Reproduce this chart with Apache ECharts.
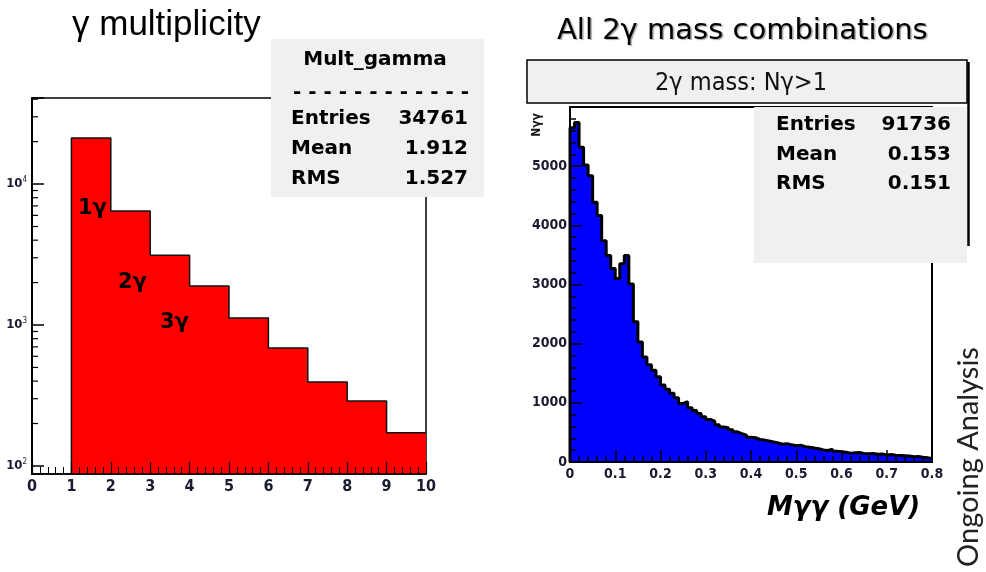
<!DOCTYPE html>
<html><head><meta charset="utf-8">
<script src="https://cdn.jsdelivr.net/npm/echarts@6/dist/echarts.min.js"></script>
<style>html,body{margin:0;padding:0;background:#fff}#c{width:986px;height:572px}</style>
</head><body><div id="c"></div>
<script>
// ---------- data ----------
const multBinLow = [1, 2, 3, 4, 5, 6, 7, 8, 9];
const multCounts = [21200, 6440, 3130, 1890, 1120, 687, 395, 289, 172];
const multLogMinorTicks = [200, 300, 400, 500, 600, 700, 800, 900,
  2000, 3000, 4000, 5000, 6000, 7000, 8000, 9000, 20000, 30000, 40000];
const multStats = [['Entries', '34761'], ['Mean', '1.912'], ['RMS', '1.527']];
const multBinLabels = ['1γ', '2γ', '3γ'];

const massBinWidth = 0.01;
const massCounts = [
  5650, 5740, 5320, 5020, 4840, 4390, 4165, 3740, 3490, 3270,
  3100, 3350, 3490, 3010, 2370, 2030, 1775, 1645, 1550, 1440,
  1300, 1230, 1160, 1085, 990, 1020, 915, 870, 820, 765,
  720, 690, 630, 590, 580, 545, 510, 480, 455, 420,
  410, 380, 370, 355, 340, 320, 300, 310, 290, 275,
  285, 260, 250, 235, 225, 205, 195, 215, 180, 175,
  165, 150, 155, 160, 145, 140, 145, 130, 135, 120,
  125, 115, 110, 105, 100, 90, 95, 80, 70, 60];
const massStats = [['Entries', '91736'], ['Mean', '0.153'], ['RMS', '0.151']];

// ---------- styling ----------
const LEFT_YMIN = 87.7, LEFT_YMAX = 40800;
const axisFont = '"Liberation Sans Narrow", "DejaVu Sans Condensed", Arial, sans-serif';
const comic = '"Comic Sans MS", "DejaVu Sans", sans-serif';
const labelColor = '#1a1a30';

const chart = echarts.init(document.getElementById('c'), null, {renderer: 'canvas'});

const multOutline = [[multBinLow[0], LEFT_YMIN]].concat(
  multBinLow.map((x, i) => [x, multCounts[i]]),
  [[multBinLow[multBinLow.length - 1] + 1, multCounts[multCounts.length - 1]]]);

const massOutline = [[0, 0]].concat(
  massCounts.map((v, i) => [i * massBinWidth, v]),
  [[massCounts.length * massBinWidth, massCounts[massCounts.length - 1]]]);

function statTexts(stats, xl, xr, y0, dy) {
  const out = [];
  stats.forEach((s, i) => {
    out.push({type: 'text', z: 101, x: xl, y: y0 + i * dy,
      style: {text: s[0], font: 'bold 20px ' + comic, fill: '#000', textAlign: 'left', textVerticalAlign: 'middle'}});
    out.push({type: 'text', z: 101, x: xr, y: y0 + i * dy,
      style: {text: s[1], font: 'bold 20px ' + comic, fill: '#000', textAlign: 'right', textVerticalAlign: 'middle'}});
  });
  return out;
}

const option = {
  animation: false,
  backgroundColor: '#fff',
  grid: [
    {left: 32, top: 98, width: 394, height: 376, show: true, borderColor: '#000', borderWidth: 1.5, backgroundColor: 'transparent', containLabel: false},
    {left: 570, top: 107, width: 362, height: 355, show: true, borderColor: '#000', borderWidth: 2, backgroundColor: 'transparent', containLabel: false}
  ],
  xAxis: [
    {gridIndex: 0, type: 'value', min: 0, max: 10, interval: 1, z: 10,
      axisLine: {show: true, onZero: false, lineStyle: {color: '#000', width: 1.5}},
      axisTick: {show: true, inside: true, length: 12, lineStyle: {color: '#000', width: 1.2}},
      minorTick: {show: true, splitNumber: 5, length: 7, lineStyle: {color: '#000', width: 1}},
      axisLabel: {margin: 5, color: labelColor, fontFamily: axisFont, fontSize: 16, fontWeight: 'bold',
        formatter: v => String(v)},
      splitLine: {show: false}, minorSplitLine: {show: false}},
    {gridIndex: 1, type: 'value', min: 0, max: 0.8, interval: 0.1, z: 10,
      axisLine: {show: true, onZero: false, lineStyle: {color: '#000', width: 2}},
      axisTick: {show: true, inside: true, length: 12, lineStyle: {color: '#000', width: 1.5}},
      minorTick: {show: true, splitNumber: 5, length: 6, lineStyle: {color: '#000', width: 1.5}},
      axisLabel: {margin: 5, color: labelColor, fontFamily: axisFont, fontSize: 14, fontWeight: 'bold',
        formatter: v => (v === 0 ? '0' : v.toFixed(1))},
      splitLine: {show: false}, minorSplitLine: {show: false}}
  ],
  yAxis: [
    {gridIndex: 0, type: 'log', logBase: 10, min: LEFT_YMIN, max: LEFT_YMAX, z: 10,
      axisLine: {show: true, onZero: false, lineStyle: {color: '#000', width: 2}},
      axisTick: {show: true, inside: true, length: 12, lineStyle: {color: '#000', width: 1.5}},
      axisLabel: {margin: 5, color: labelColor,
        formatter: v => {
          const e = Math.round(Math.log10(v));
          if (Math.abs(Math.log10(v) - e) > 1e-3) return '';
          return '{b|10}{s|' + e + '}';
        },
        rich: {b: {fontFamily: axisFont, fontSize: 13, fontWeight: 'bold', color: labelColor},
               s: {fontFamily: axisFont, fontSize: 8, color: labelColor, verticalAlign: 'top', padding: [0, 0, 8, 0]}}},
      splitLine: {show: false}},
    {gridIndex: 1, type: 'value', min: 0, max: 6000, interval: 1000, z: 10,
      axisLine: {show: true, onZero: false, lineStyle: {color: '#000', width: 2}},
      axisTick: {show: true, inside: true, length: 12, lineStyle: {color: '#000', width: 1.5}},
      minorTick: {show: true, splitNumber: 5, length: 6, lineStyle: {color: '#000', width: 1.5}},
      axisLabel: {margin: 3, color: labelColor, fontFamily: axisFont, fontSize: 14, fontWeight: 'bold', showMaxLabel: false,
        formatter: v => String(v)},
      splitLine: {show: false}, minorSplitLine: {show: false}}
  ],
  series: [
    {type: 'line', xAxisIndex: 0, yAxisIndex: 0, z: 3, step: 'end', symbol: 'none',
      lineStyle: {color: '#111', width: 1.5},
      areaStyle: {color: '#ff0000', opacity: 1, origin: 'start'}, data: multOutline},
    {type: 'custom', xAxisIndex: 0, yAxisIndex: 0, z: 12, clip: false,
      encode: {y: 1}, data: multLogMinorTicks.map(v => [0, v]),
      renderItem: (params, api) => {
        const p = api.coord([0, api.value(1)]);
        return {type: 'line', shape: {x1: p[0], y1: p[1], x2: p[0] + 6, y2: p[1]},
          style: {stroke: '#000', lineWidth: 1.2}};
      }},
    {type: 'line', xAxisIndex: 1, yAxisIndex: 1, z: 3, step: 'end', symbol: 'none',
      lineStyle: {color: '#000', width: 3},
      areaStyle: {color: '#0000ff', opacity: 1, origin: 'start'}, data: massOutline}
  ],
  graphic: {elements: [].concat([
    // left title
    {type: 'text', z: 101, x: 72, y: 25,
      style: {text: 'γ multiplicity', font: 'normal 35px "Liberation Sans", Arial, sans-serif', fill: '#000', textVerticalAlign: 'middle'}},
    // left stats box
    {type: 'rect', z: 100, shape: {x: 271, y: 39, width: 213, height: 158}, style: {fill: '#f0f0f0'}},
    {type: 'text', z: 101, x: 375, y: 60,
      style: {text: 'Mult_gamma', font: 'bold 20px ' + comic, fill: '#000', textAlign: 'center', textVerticalAlign: 'middle'}},
    {type: 'text', z: 101, x: 381, y: 93,
      style: {text: '- - - - - - - - - - - -', font: 'bold 20px ' + comic, fill: '#000', textAlign: 'center', textVerticalAlign: 'middle'}},
    // bin labels
    {type: 'text', z: 101, x: 78, y: 209,
      style: {text: multBinLabels[0], font: 'bold 21px ' + comic, fill: '#000', textVerticalAlign: 'middle'}},
    {type: 'text', z: 101, x: 118, y: 283,
      style: {text: multBinLabels[1], font: 'bold 21px ' + comic, fill: '#000', textVerticalAlign: 'middle'}},
    {type: 'text', z: 101, x: 160, y: 323,
      style: {text: multBinLabels[2], font: 'bold 21px ' + comic, fill: '#000', textVerticalAlign: 'middle'}},
    // right title
    {type: 'text', z: 101, x: 557, y: 31,
      style: {text: 'All 2γ mass combinations', font: 'normal 29px ' + comic, fill: '#000', textVerticalAlign: 'middle',
        textShadowColor: 'rgba(0,0,0,0.35)', textShadowOffsetX: 1.5, textShadowOffsetY: 1.5, textShadowBlur: 1}},
    // header box
    {type: 'rect', z: 100, shape: {x: 527, y: 60, width: 440, height: 43}, style: {fill: '#f0f0f0', stroke: '#000', lineWidth: 1.5}},
    {type: 'text', z: 101, x: 741, y: 83,
      style: {text: '2γ mass: Nγ>1', font: 'normal 25px ' + axisFont, fill: '#111', textAlign: 'center', textVerticalAlign: 'middle'}},
    // right stats box
    {type: 'rect', z: 100, shape: {x: 754, y: 107, width: 213, height: 156}, style: {fill: '#f0f0f0'}},
    {type: 'line', z: 102, shape: {x1: 968.5, y1: 62, x2: 968.5, y2: 246}, style: {stroke: '#000', lineWidth: 2.5}},
    // y axis name
    {type: 'text', z: 101, x: 537, y: 125, rotation: Math.PI / 2,
      style: {text: 'Nγγ', font: 'bold 12px ' + axisFont, fill: '#111', textAlign: 'center', textVerticalAlign: 'middle'}},
    // x axis title
    {type: 'text', z: 101, x: 767, y: 508,
      style: {text: 'Mγγ (GeV)', font: 'italic bold 26px ' + comic, fill: '#000', textVerticalAlign: 'middle'}},
    // side note
    {type: 'text', z: 101, x: 969, y: 457, rotation: Math.PI / 2,
      style: {text: 'Ongoing Analysis', font: 'normal 29px Lato, "Open Sans", sans-serif', fill: '#222', textAlign: 'center', textVerticalAlign: 'middle'}}
  ], statTexts(multStats, 291, 468, 119, 30), statTexts(massStats, 776, 951, 125, 29.5))}
};
chart.setOption(option);
</script>
</body></html>
